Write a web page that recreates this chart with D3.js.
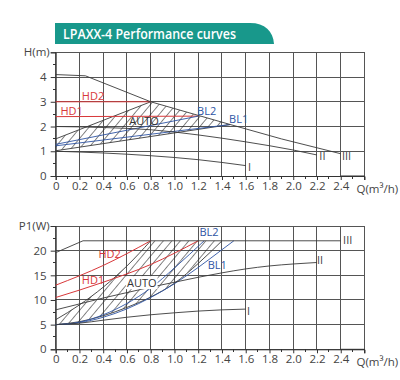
<!DOCTYPE html>
<html><head><meta charset="utf-8">
<script src="https://cdn.jsdelivr.net/npm/d3@7"></script>
<style>body{margin:0;background:#fff}svg{display:block}</style>
</head><body>
<svg id="c" width="400" height="380"></svg>
<script>
// ---------- data ----------
const titleText = "LPAXX-4 Performance curves";
const qTickValues = [0,0.2,0.4,0.6,0.8,1.0,1.2,1.4,1.6,1.8,2.0,2.2,2.4];
const qTickLabels = ["0","0.2","0.4","0.6","0.8","1.0","1.2","1.4","1.6","1.8","2.0","2.2","2.4"];
const hTickValues = [0,1,2,3,4];
const pTickValues = [0,5,10,15,20];

// head curves H(m) vs Q(m3/h)
const headIII = [[0,4.1],[0.25,4.05],[0.8,3.0],[1.2,2.45],[1.47,2.08],[1.9,1.5],[2.4,0.9]];
const headII  = [[0,2.0],[0.4,1.96],[0.8,1.87],[1.2,1.66],[1.6,1.38],[2.0,1.05],[2.2,0.85]];
const headI   = [[0,1.0],[0.4,0.93],[0.8,0.82],[1.2,0.66],[1.6,0.42]];
const headHD2 = [[0,3.0],[0.8,3.0]];
const headHD1 = [[0,2.4],[1.2,2.42]];
const headBL2 = [[0,1.28],[1.2,2.42]];
const headBL1 = [[0,1.22],[1.47,2.08]];
const headAutoUpper = [[0,1.5],[0.8,3.0],[1.2,2.45],[1.47,2.08]];
const headAutoLower = [[0,1.02],[1.47,2.08]];

// power curves P1(W) vs Q(m3/h)
const powIII = [[0,19.6],[0.23,22],[2.4,22]];
const powII  = [[0,8.0],[0.2,9.2],[0.4,10.4],[0.6,11.5],[0.8,12.6],[1.0,13.6],[1.2,14.6],[1.4,15.5],[1.6,16.3],[1.8,16.9],[2.0,17.3],[2.2,17.6]];
const powI   = [[0,5.0],[0.2,5.3],[0.4,5.9],[0.6,6.5],[0.8,7.0],[1.0,7.4],[1.2,7.75],[1.4,8.0],[1.6,8.15]];
const powHD2 = [[0,13],[0.4,17],[0.8,22]];
const powHD1 = [[0,10.5],[0.4,13.6],[0.8,17.2],[1.2,22]];
const powBL2 = [[0,5],[0.2,5.5],[0.4,7.0],[0.6,9.3],[0.8,12.4],[1.0,16.5],[1.25,22]];
const powBL1 = [[0,5],[0.2,5.4],[0.4,6.5],[0.6,8.2],[0.8,10.5],[1.0,13.3],[1.2,16.6],[1.4,20.2],[1.5,22]];
const powAutoUpper = [[0,6.0],[0.2,9.0],[0.4,12.6],[0.6,16.9],[0.8,22],[1.4,22]];
const powAutoLower = [[0,5.0],[0.2,5.6],[0.4,6.8],[0.6,8.5],[0.8,10.6],[1.0,13.4],[1.2,17.4],[1.4,22]];

// ---------- drawing ----------
const svg = d3.select("#c");
const RED = "#d8383a", BLUE = "#2f55a4", BLK = "#3a3a3a", GRID = "#555", TXT = "#444";
const FONT = "'Open Sans', 'Noto Sans', sans-serif";

// hatch pattern
const defs = svg.append("defs");
const pat = defs.append("pattern").attr("id","hatch").attr("patternUnits","userSpaceOnUse")
  .attr("width",6.5).attr("height",6.5).attr("patternTransform","rotate(40)");
pat.append("line").attr("x1",0).attr("y1",0).attr("x2",0).attr("y2",6.5)
  .attr("stroke","#222").attr("stroke-width",1.1);

// title tab
svg.append("path").attr("d","M55,23 H250 C265,23 273,31 274,44 H55 Z").attr("fill","#18988b");
svg.append("text").attr("x",63).attr("y",39).attr("fill","#fff")
  .attr("font-family",FONT).attr("font-size",14).attr("font-weight",600)
  .attr("textLength",173).attr("lengthAdjust","spacingAndGlyphs").text(titleText);

const x = d3.scaleLinear().domain([0,2.6]).range([55.7,364.5]);

function panel(y, yTicks, yMax, yMinorStep, yTitle, yTitleY) {
  const g = svg.append("g");
  g.selectAll(".vg").data(d3.range(0,2.61,0.2)).join("line")
    .attr("x1",d=>x(d)).attr("x2",d=>x(d)).attr("y1",y(0)).attr("y2",y(yMax))
    .attr("stroke",GRID).attr("stroke-width",1).attr("shape-rendering","crispEdges");
  g.selectAll(".hg").data(yTicks.concat([yMax])).join("line")
    .attr("x1",x(0)).attr("x2",x(2.6)).attr("y1",d=>y(d)).attr("y2",d=>y(d))
    .attr("stroke",GRID).attr("stroke-width",1).attr("shape-rendering","crispEdges");
  const ya = d3.axisLeft(y).tickValues(yTicks.concat([yMax])).tickSize(5).tickFormat(d=> d===yMax ? "" : d);
  const yg = g.append("g").attr("transform",`translate(${x(0)},0)`).call(ya);
  yg.select(".domain").attr("stroke","#333");
  yg.selectAll(".tick line").attr("stroke","#333");
  yg.selectAll("text").attr("font-family",FONT).attr("font-size",11.5).attr("fill",TXT).attr("dx",-1);
  g.selectAll(".my").data(d3.range(yMinorStep, yMax, yMinorStep*2)).join("line")
    .attr("x1",x(0)-3).attr("x2",x(0)).attr("y1",d=>y(d)).attr("y2",d=>y(d))
    .attr("stroke","#333").attr("shape-rendering","crispEdges");
  const xa = d3.axisBottom(x).tickValues(qTickValues).tickSize(4).tickFormat((d,i)=>qTickLabels[i]);
  const xg = g.append("g").attr("transform",`translate(0,${y(0)})`).call(xa);
  xg.select(".domain").attr("stroke","#333");
  xg.selectAll(".tick line").attr("stroke","#333");
  xg.selectAll("text").attr("font-family",FONT).attr("font-size",11.5).attr("fill",TXT).attr("dy","0.6em");
  g.append("line").attr("x1",x(2.4)).attr("x2",x(2.6)).attr("y1",y(0)).attr("y2",y(0)).attr("stroke","#333");
  g.append("line").attr("x1",x(2.6)).attr("x2",x(2.6)).attr("y1",y(0)).attr("y2",y(0)+4).attr("stroke","#333");
  g.selectAll(".mx").data(d3.range(0.1,2.6,0.2)).join("line")
    .attr("x1",d=>x(d)).attr("x2",d=>x(d)).attr("y1",y(0)).attr("y2",y(0)+3)
    .attr("stroke","#333").attr("shape-rendering","crispEdges");
  g.append("text").attr("x",x(2.6)-8).attr("y",y(0)+17).attr("font-family",FONT).attr("font-size",11.5)
    .attr("fill",TXT).text("Q(m³/h)");
  g.append("text").attr("x",x(0)-6).attr("y",yTitleY).attr("text-anchor","end").attr("font-family",FONT)
    .attr("font-size",11.5).attr("fill",TXT).text(yTitle);
  return g;
}

const yH = d3.scaleLinear().domain([0,5]).range([176,52.3]);
const yP = d3.scaleLinear().domain([0,25]).range([349.3,226]);

const gTop = panel(yH, hTickValues, 5, 0.5, "H(m)", 56);
const gBot = panel(yP, pTickValues, 25, 2.5, "P1(W)", 230);

function area(g, y, upper, lower, smooth) {
  const pts = upper.concat(lower.slice().reverse());
  g.append("path").attr("d", d3.line().x(d=>x(d[0])).y(d=>y(d[1]))(pts) + "Z")
    .attr("fill","url(#hatch)").attr("stroke","none");
}
function curve(g, y, pts, color, w, smooth) {
  const ln = d3.line().x(d=>x(d[0])).y(d=>y(d[1]));
  if (smooth) ln.curve(d3.curveMonotoneX);
  g.append("path").attr("d", ln(pts)).attr("fill","none").attr("stroke",color).attr("stroke-width",w||0.9);
}
function label(g, px, py, txt, color, bg) {
  if (bg) {
    const t = g.append("text").attr("x",px).attr("y",py).attr("font-family",FONT).attr("font-size",11).text(txt);
    const b = t.node().getBBox(); t.remove();
    g.append("rect").attr("x",b.x-1).attr("y",b.y+1).attr("width",b.width+2).attr("height",b.height-2).attr("fill","#fff");
  }
  g.append("text").attr("x",px).attr("y",py).attr("font-family",FONT).attr("font-size",11)
    .attr("fill",color).text(txt);
}

// top panel
area(gTop, yH, headAutoUpper, headAutoLower);
curve(gTop, yH, headAutoUpper.slice(0,2), BLK, 0.9);
curve(gTop, yH, headAutoLower, BLK, 0.9);
curve(gTop, yH, headHD2, RED, 1);
curve(gTop, yH, headHD1, RED, 1);
curve(gTop, yH, headBL2, BLUE, 0.9);
curve(gTop, yH, headBL1, BLUE, 0.9);
curve(gTop, yH, headIII, BLK, 0.9);
curve(gTop, yH, headII, BLK, 0.9, true);
curve(gTop, yH, headI, BLK, 0.9, true);
label(gTop, x(0.22), yH(3.08), "HD2", RED);
label(gTop, x(0.04), yH(2.48), "HD1", RED);
label(gTop, x(0.62), yH(2.08), "AUTO", "#333");
label(gTop, x(1.19), yH(2.46), "BL2", BLUE);
label(gTop, x(1.46), yH(2.14), "BL1", BLUE);
label(gTop, x(2.22), yH(0.64), "II", "#444");
label(gTop, x(2.41), yH(0.64), "III", "#444");
label(gTop, x(1.62), yH(0.22), "I", "#444");

// bottom panel
area(gBot, yP, powAutoUpper, powAutoLower);
curve(gBot, yP, powAutoUpper.slice(0,5), BLK, 0.9, true);
curve(gBot, yP, powAutoLower, BLK, 0.9, true);
curve(gBot, yP, powHD2, RED, 1, true);
curve(gBot, yP, powHD1, RED, 1, true);
curve(gBot, yP, powBL2, BLUE, 0.9, true);
curve(gBot, yP, powBL1, BLUE, 0.9, true);
curve(gBot, yP, powIII, BLK, 0.9);
curve(gBot, yP, powII, BLK, 0.9, true);
curve(gBot, yP, powI, BLK, 0.9, true);
label(gBot, x(0.36), yP(18.5), "HD2", RED);
label(gBot, x(0.22), yP(13.3), "HD1", RED);
label(gBot, x(0.6), yP(12.6), "AUTO", "#333", true);
label(gBot, x(1.21), yP(22.9), "BL2", BLUE);
label(gBot, x(1.28), yP(16.2), "BL1", BLUE);
label(gBot, x(2.42), yP(21.3), "III", "#444");
label(gBot, x(2.2), yP(17.3), "II", "#444");
label(gBot, x(1.61), yP(7.0), "I", "#444");
</script>
</body></html>
